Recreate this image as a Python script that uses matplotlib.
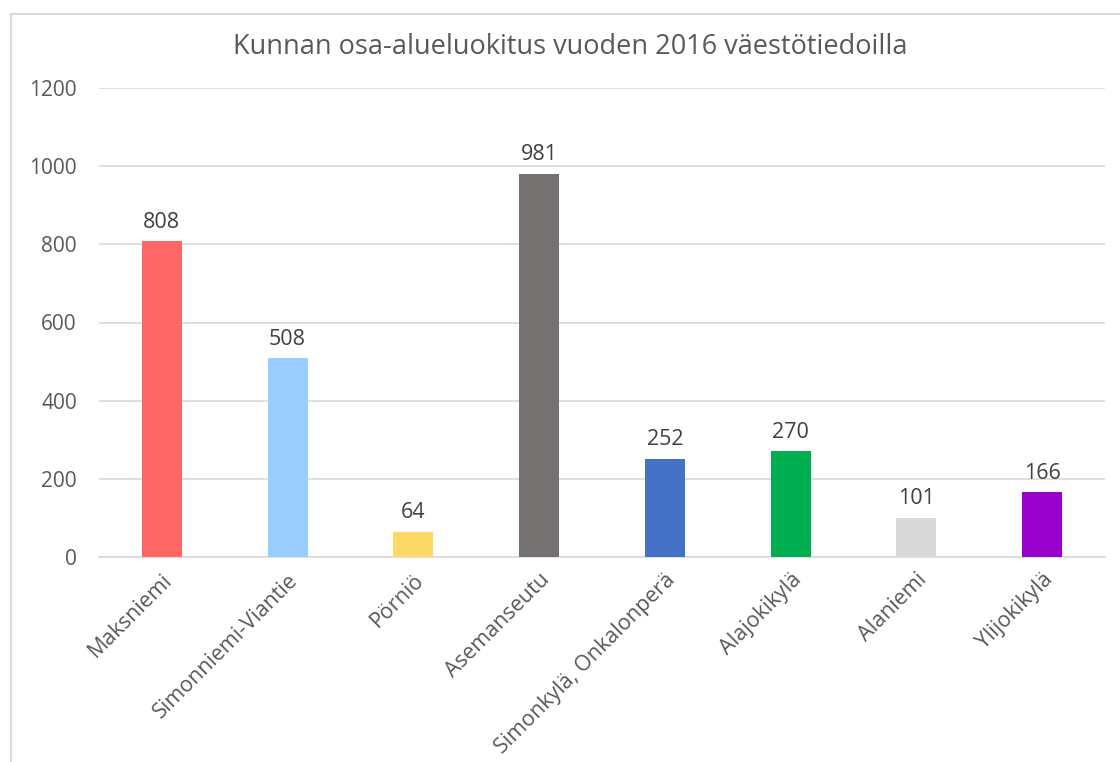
import matplotlib.pyplot as plt
from matplotlib.patches import Rectangle

areas = ["Maksniemi", "Simonniemi-Viantie", "Pörniö", "Asemanseutu",
         "Simonkylä, Onkalonperä", "Alajokikylä", "Alaniemi", "Ylijokikylä"]
population = [808, 508, 64, 981, 252, 270, 101, 166]
colors = ["#FF6666", "#99CCFF", "#FFD966", "#767171",
          "#4472C4", "#00B050", "#D9D9D9", "#9900CC"]
yticks = [0, 200, 400, 600, 800, 1000, 1200]

txt = "#595959"
plt.rcParams['font.family'] = ['Open Sans', 'DejaVu Sans']

fig = plt.figure(figsize=(11.2, 7.62), dpi=100)
ax = fig.add_axes([99/1120, 1 - 557/762, (1105-99)/1120, (557-88)/762])

# chart frame (cropped at right/bottom like the screenshot)
fig.patches.append(Rectangle((11/1120, -0.1), 1.2, 1 - 14/762 + 0.1,
                             transform=fig.transFigure, fill=False,
                             edgecolor="#D9D9D9", linewidth=1.5))

x = range(len(areas))
bars = ax.bar(x, population, width=0.32, color=colors, zorder=3)
for b, v in zip(bars, population):
    ax.text(b.get_x() + b.get_width()/2, v + 22, str(v), ha='center', va='bottom',
            fontsize=15.5, color="#404040")

ax.set_xlim(-0.5, len(areas) - 0.5)
ax.set_ylim(0, 1200)
ax.set_yticks(yticks)
ax.set_yticklabels([str(t) for t in yticks], fontsize=15, color=txt)
ax.set_xticks(list(x))
ax.set_xticklabels(areas, rotation=45, ha='right', rotation_mode='anchor',
                   fontsize=15.5, color=txt)
ax.tick_params(axis='both', length=0)
ax.tick_params(axis='y', pad=16)
ax.tick_params(axis='x', pad=9)
ax.grid(axis='y', color="#D9D9D9", linewidth=1.2, zorder=0)
for s in ['top', 'right', 'left']:
    ax.spines[s].set_visible(False)
ax.spines['bottom'].set_color("#D9D9D9")
ax.spines['bottom'].set_linewidth(1.2)

fig.text(0.5 + 10/1120, 1 - 47/762, "Kunnan osa-alueluokitus vuoden 2016 väestötiedoilla",
         ha='center', va='center', fontsize=19.5, color=txt)

fig.savefig("out.png", dpi=100)
